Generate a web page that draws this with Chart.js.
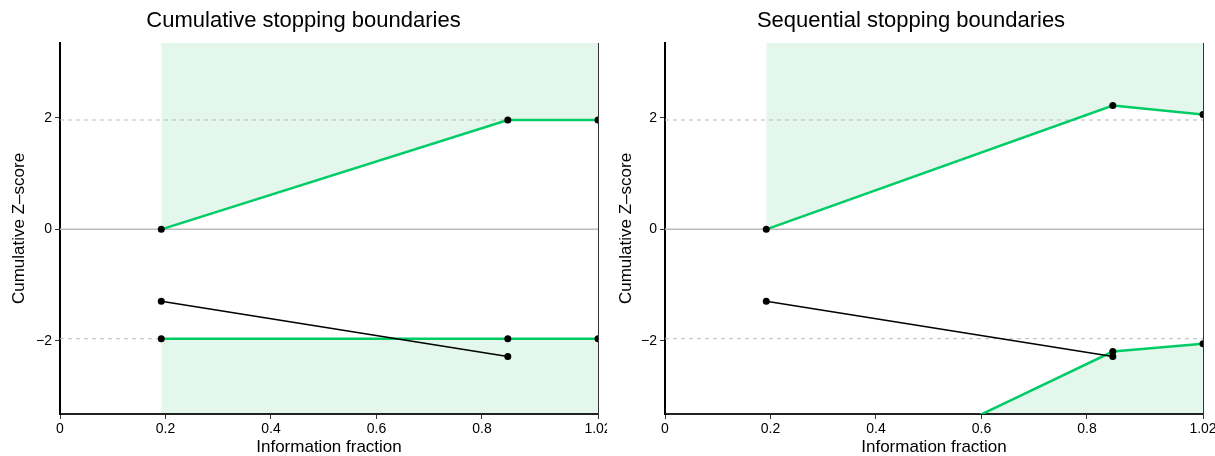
<!DOCTYPE html>
<html>
<head>
<meta charset="utf-8">
<script src="https://cdn.jsdelivr.net/npm/chart.js@4.4.1/dist/chart.umd.min.js"></script>
<style>
  html, body { margin: 0; padding: 0; background: #fff; }
  #wrap { position: relative; width: 1215px; height: 456px; }
  canvas { position: absolute; top: 0; }
</style>
</head>
<body>
<div id="wrap">
  <canvas id="cumChart" width="607" height="456" style="left:0"></canvas>
  <canvas id="seqChart" width="608" height="456" style="left:607px"></canvas>
</div>
<script>
// information fractions of the looks
const infoFrac = [0.192, 0.849, 1.02];
// cumulative boundaries
const cumUpper = [0, 1.96, 1.96];
const cumLower = [-1.96, -1.96, -1.96];
// sequential boundaries (first lower value lies below the plot)
const seqUpper = [0, 2.22, 2.06];
const seqLower = [-5.16, -2.19, -2.05];
// observed cumulative z-score
const zFrac = [0.192, 0.849];
const zScore = [-1.29, -2.28];
// reference levels
const dashedLevels = [1.96, -1.96];
const zeroLevel = [0];

const xTicks = [0, 0.2, 0.4, 0.6, 0.8, 1.02];
const xTickLabels = ['0', '0.2', '0.4', '0.6', '0.8', '1.02'];
const yTicks = [-2, 0, 2];
const yTickLabels = ['\u22122', '0', '2'];
const xMin = 0, xMax = 1.02;
const yMin = -3.31, yMax = 3.34;

const GREEN = '#00cc66';
const SHADE = '#e3f7ec';
const FONT = "'Liberation Sans', Arial, sans-serif";

const pts = (xs, ys) => xs.map((x, i) => ({x: x, y: ys[i]}));

function hLine(level, dashed) {
  return {
    data: [{x: xMin, y: level}, {x: xMax, y: level}],
    borderColor: '#bbbbbb',
    borderWidth: dashed ? 1 : 1.5,
    borderDash: dashed ? [4, 4] : [],
    pointRadius: 0,
    fill: false,
    clip: 0
  };
}

function boundary(ys, fillTo) {
  return {
    data: pts(infoFrac, ys),
    borderColor: GREEN,
    borderWidth: 2.5,
    backgroundColor: SHADE,
    fill: fillTo,
    pointRadius: 3.5,
    pointBorderWidth: 0,
    pointBackgroundColor: '#000',
    clip: 0
  };
}

function makeChart(id, title, upper, lower, axisWidth, padRight) {
  const datasets = [
    {
      data: pts(zFrac, zScore),
      borderColor: '#000',
      borderWidth: 1.5,
      pointRadius: 3.5,
      pointBorderWidth: 0,
      pointBackgroundColor: '#000',
      fill: false,
      clip: 0
    },
    boundary(upper, 'end'),
    boundary(lower, 'start')
  ];
  dashedLevels.forEach(l => datasets.push(hLine(l, true)));
  zeroLevel.forEach(l => datasets.push(hLine(l, false)));

  return new Chart(document.getElementById(id).getContext('2d'), {
    type: 'line',
    data: { datasets: datasets },
    options: {
      responsive: false,
      animation: false,
      devicePixelRatio: 1,
      layout: { padding: 0 },
      plugins: {
        legend: { display: false },
        tooltip: { enabled: false },
        filler: { drawTime: 'beforeDraw' },
        title: {
          display: true,
          text: title,
          color: '#000',
          font: { family: FONT, size: 22, weight: 'normal', lineHeight: 1.2 },
          padding: { top: 8, bottom: 8.6 }
        }
      },
      scales: {
        x: {
          type: 'linear',
          min: xMin,
          max: xMax,
          afterBuildTicks: s => { s.ticks = xTicks.map(v => ({value: v})); },
          afterFit: s => { s.height = 42; s.paddingLeft = 0; s.paddingRight = 0; },
          ticks: {
            color: '#000',
            font: { family: FONT, size: 14 },
            padding: 2,
            maxRotation: 0,
            autoSkip: false,
            callback: (v, i) => xTickLabels[i]
          },
          grid: { drawOnChartArea: false, tickLength: 5, color: '#333' },
          border: { color: '#222', width: 2 },
          title: {
            display: true,
            text: 'Information fraction',
            color: '#000',
            font: { family: FONT, size: 17, lineHeight: 1 },
            padding: 0
          }
        },
        y: {
          type: 'linear',
          min: yMin,
          max: yMax,
          afterBuildTicks: s => { s.ticks = yTicks.map(v => ({value: v})); },
          afterFit: s => { s.width = axisWidth; s.paddingTop = 0; s.paddingBottom = 0; },
          ticks: {
            color: '#000',
            font: { family: FONT, size: 14 },
            padding: 3,
            callback: (v, i) => yTickLabels[i]
          },
          grid: { drawOnChartArea: false, tickLength: 5, color: '#333' },
          border: { color: '#000', width: 2 },
          title: {
            display: true,
            text: 'Cumulative Z\u2013score',
            color: '#000',
            font: { family: FONT, size: 17, lineHeight: 1 },
            padding: { top: 10.5, bottom: 0 }
          }
        },
        // right frame of the plot, no ticks
        yFrame: {
          type: 'linear',
          position: 'right',
          min: yMin,
          max: yMax,
          afterFit: s => { s.width = padRight; s.paddingTop = 0; s.paddingBottom = 0; },
          ticks: { display: false },
          grid: { display: false },
          border: { display: true, color: '#333', width: 1 }
        }
      }
    }
  });
}

makeChart('cumChart', 'Cumulative stopping boundaries', cumUpper, cumLower, 60, 9);
makeChart('seqChart', 'Sequential stopping boundaries', seqUpper, seqLower, 58, 12);
</script>
</body>
</html>
